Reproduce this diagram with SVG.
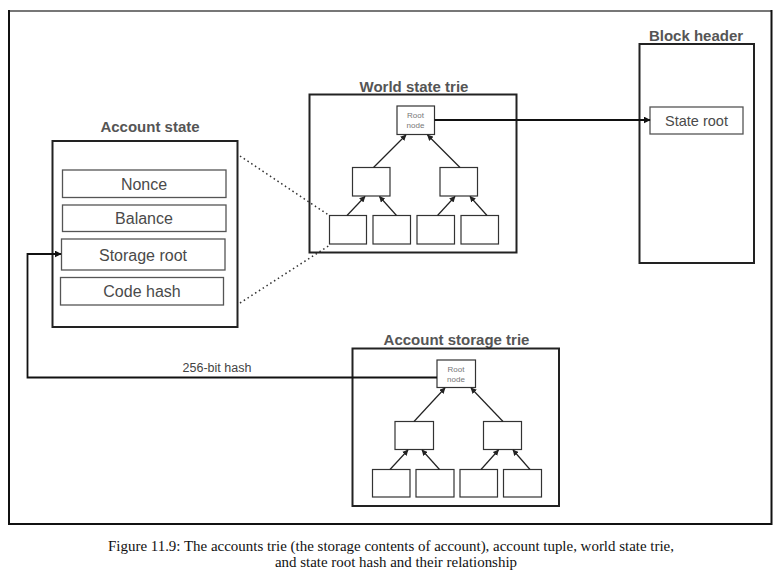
<svg xmlns="http://www.w3.org/2000/svg" width="782" height="578" viewBox="0 0 782 578">
<defs>
<marker id="ah" viewBox="0 0 10 10" refX="9" refY="5" markerWidth="7" markerHeight="7" orient="auto" markerUnits="userSpaceOnUse">
<path d="M0,0 L10,5 L0,10 z" fill="#111"/>
</marker>
<marker id="ahs" viewBox="0 0 10 10" refX="9" refY="5" markerWidth="6" markerHeight="6" orient="auto" markerUnits="userSpaceOnUse">
<path d="M0,0 L10,5 L0,10 z" fill="#222"/>
</marker>
</defs>
<style>
.box{fill:#fff;stroke:#222;stroke-width:2}
.cell{fill:#fff;stroke:#555;stroke-width:1.3}
.tn{fill:#fff;stroke:#333;stroke-width:1.2}
.title{font-family:"Liberation Sans",Arial,sans-serif;font-size:15px;font-weight:bold;fill:#555;text-anchor:middle}
.lbl{font-family:"Liberation Sans",Arial,sans-serif;font-size:16px;fill:#4a4a4a;text-anchor:middle}
.small{font-family:"Liberation Sans",Arial,sans-serif;font-size:8px;fill:#777;text-anchor:middle}
.hash{font-family:"Liberation Sans",Arial,sans-serif;font-size:12.5px;fill:#444;text-anchor:middle}
.cap{font-family:"Liberation Serif","Times New Roman",serif;font-size:14.5px;fill:#111;text-anchor:middle}
.edge{stroke:#222;stroke-width:1.2;fill:none;marker-end:url(#ahs)}
.link{stroke:#111;stroke-width:1.8;fill:none;marker-end:url(#ah)}
.dot{stroke:#333;stroke-width:1.5;stroke-dasharray:1.5 3;fill:none}
</style>
<rect width="782" height="578" fill="#fff"/>
<g id="frame">
<line x1="9" y1="11" x2="772" y2="11" stroke="#777" stroke-width="2"/>
<line x1="9" y1="10" x2="9" y2="525" stroke="#111" stroke-width="2"/>
<line x1="8" y1="524" x2="772" y2="524" stroke="#111" stroke-width="2"/>
<line x1="771.5" y1="10" x2="771.5" y2="525" stroke="#111" stroke-width="2"/>
</g>

<g id="block-header">
<text class="title" x="696" y="41">Block header</text>
<rect class="box" x="639.5" y="44" width="114.5" height="219"/>
<rect class="cell" x="650" y="107" width="93" height="27"/>
<text class="lbl" x="696.5" y="126" style="font-size:14.5px">State root</text>
</g>

<g id="account-state">
<text class="title" x="150" y="132">Account state</text>
<rect class="box" x="52.5" y="141" width="185" height="186"/>
<rect class="cell" x="62.5" y="170" width="163.5" height="27.5"/>
<text class="lbl" x="144" y="189.5">Nonce</text>
<rect class="cell" x="62.5" y="205" width="163.5" height="26.5"/>
<text class="lbl" x="144" y="224">Balance</text>
<rect class="cell" x="61.5" y="239" width="163.5" height="31"/>
<text class="lbl" x="143" y="260.5">Storage root</text>
<rect class="cell" x="60.5" y="277.5" width="163" height="27.5"/>
<text class="lbl" x="142" y="297">Code hash</text>
</g>

<g id="world-state-trie">
<text class="title" x="414" y="92">World state trie</text>
<rect class="box" x="309.5" y="94.5" width="207" height="158"/>
<rect class="tn" x="397" y="106" width="37.5" height="28.5"/>
<text class="small" x="415.5" y="118">Root</text>
<text class="small" x="415.5" y="128">node</text>
<rect class="tn" x="352.5" y="167.5" width="37.5" height="28.5"/>
<rect class="tn" x="440" y="167.5" width="37.5" height="28.5"/>
<rect class="tn" x="329.5" y="215.5" width="37" height="28.5"/>
<rect class="tn" x="373" y="215.5" width="37.5" height="28.5"/>
<rect class="tn" x="417" y="215.5" width="37.5" height="28.5"/>
<rect class="tn" x="461" y="215.5" width="37.5" height="28.5"/>
</g>

<g id="account-storage-trie">
<text class="title" x="456.5" y="345">Account storage trie</text>
<rect class="box" x="352.5" y="348.5" width="206.5" height="157.5"/>
<rect class="tn" x="437" y="360" width="38.5" height="27.5"/>
<text class="small" x="456" y="371.5">Root</text>
<text class="small" x="456" y="381.5">node</text>
<rect class="tn" x="395" y="421.5" width="38.5" height="28"/>
<rect class="tn" x="483.5" y="421.5" width="38" height="28"/>
<rect class="tn" x="372.5" y="469.5" width="37.5" height="27.5"/>
<rect class="tn" x="416" y="469.5" width="38" height="27.5"/>
<rect class="tn" x="460" y="469.5" width="37.5" height="27.5"/>
<rect class="tn" x="503.5" y="469.5" width="38" height="27.5"/>
</g>

<g id="connectors">
<line class="edge" x1="373.5" y1="167.5" x2="406" y2="135"/>
<line class="edge" x1="460" y1="167.5" x2="427.5" y2="135"/>
<line class="edge" x1="347" y1="215.5" x2="365" y2="196.5"/>
<line class="edge" x1="396.5" y1="215.5" x2="379.5" y2="196.5"/>
<line class="edge" x1="437.5" y1="215.5" x2="455" y2="196.5"/>
<line class="edge" x1="487" y1="215.5" x2="470" y2="196.5"/>

<line class="edge" x1="414" y1="421.5" x2="445" y2="388"/>
<line class="edge" x1="503" y1="421.5" x2="471" y2="388"/>
<line class="edge" x1="390" y1="469.5" x2="408" y2="450"/>
<line class="edge" x1="439.5" y1="469.5" x2="422" y2="450"/>
<line class="edge" x1="481" y1="469.5" x2="498.5" y2="450"/>
<line class="edge" x1="530" y1="469.5" x2="513" y2="450"/>

<line class="link" x1="434.5" y1="120" x2="650" y2="120"/>
<polyline class="link" points="437,377.5 27.5,377.5 27.5,254 61,254"/>
<text class="hash" x="217" y="371.5">256-bit hash</text>

<line class="dot" x1="240" y1="156" x2="330" y2="216"/>
<line class="dot" x1="240" y1="303" x2="330" y2="245"/>
</g>

<g id="caption">
<text class="cap" x="391" y="551" textLength="566" lengthAdjust="spacingAndGlyphs">Figure 11.9: The accounts trie (the storage contents of account), account tuple, world state trie,</text>
<text class="cap" x="396" y="567" textLength="242" lengthAdjust="spacingAndGlyphs">and state root hash and  their relationship</text>
</g>
</svg>
